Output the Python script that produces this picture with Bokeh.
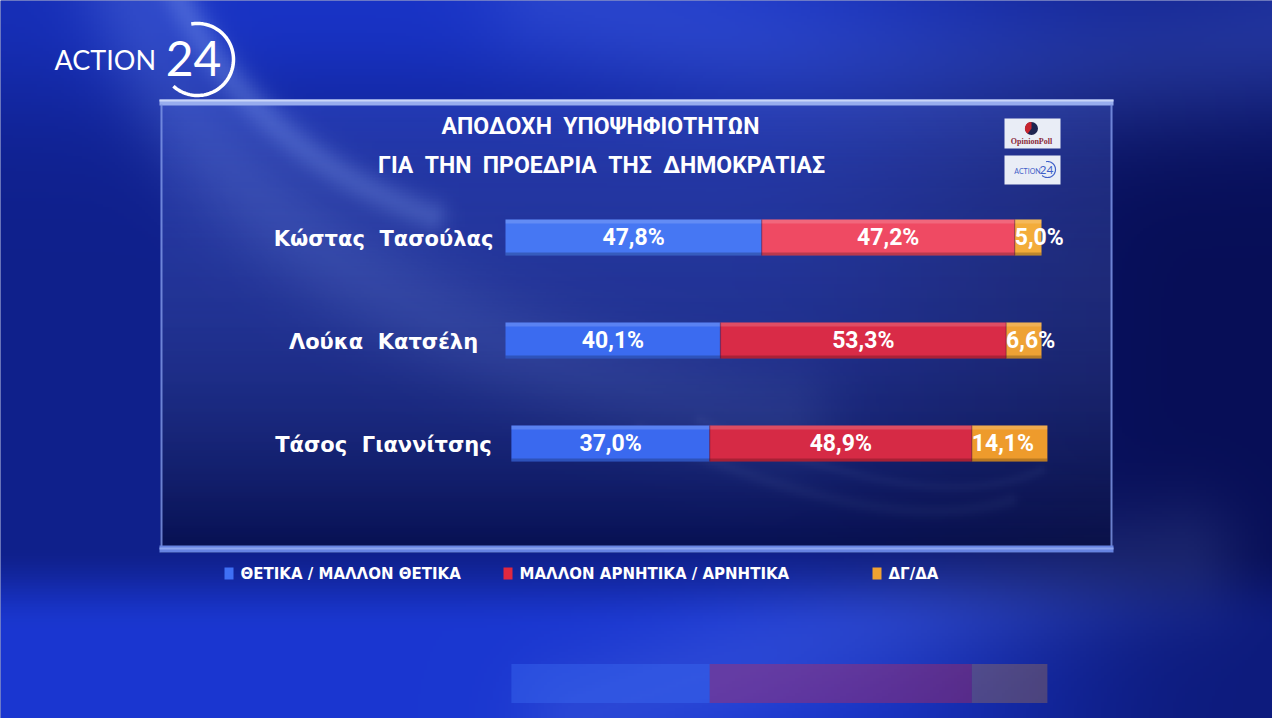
import numpy as np
from bokeh.plotting import figure
from bokeh.models import Range1d, ColumnDataSource
from bokeh.core.properties import value
from bokeh.embed import file_html
from bokeh.resources import INLINE

# ---------------- data ----------------
candidates = ["Κώστας Τασούλας", "Λούκα Κατσέλη", "Τάσος Γιαννίτσης"]
positive = [47.8, 40.1, 37.0]      # ΘΕΤΙΚΑ / ΜΑΛΛΟΝ ΘΕΤΙΚΑ
negative = [47.2, 53.3, 48.9]      # ΜΑΛΛΟΝ ΑΡΝΗΤΙΚΑ / ΑΡΝΗΤΙΚΑ
no_answer = [5.0, 6.6, 14.1]       # ΔΓ/ΔΑ
series_labels = ["ΘΕΤΙΚΑ / ΜΑΛΛΟΝ ΘΕΤΙΚΑ", "ΜΑΛΛΟΝ ΑΡΝΗΤΙΚΑ / ΑΡΝΗΤΙΚΑ", "ΔΓ/ΔΑ"]
title_lines = ["ΑΠΟΔΟΧΗ ΥΠΟΨΗΦΙΟΤΗΤΩΝ", "ΓΙΑ ΤΗΝ ΠΡΟΕΔΡΙΑ ΤΗΣ ΔΗΜΟΚΡΑΤΙΑΣ"]

# ---------------- layout / style ----------------
W, H = 1272, 718
BAR_X0 = 505.0          # pixel where 0 % sits
PX_PER_PCT = 5.36
ROW_Y0, ROW_STEP, BAR_H = 237.0, 103.0, 36.0
row_shift = [0.0, 0.0, 1.1]            # small horizontal nudge per row (in %)
blue_cols = ["#4677f3", "#3b6bf0", "#3a69ef"]
red_cols = ["#ef4a63", "#d92b47", "#d62a45"]
orange_cols = ["#f3ac3a", "#eea235", "#ee9b2c"]
TITLE_FONT = value("Roboto")
LABEL_FONT = value("Roboto")
NAME_FONT = value("DejaVu Sans")


def spaced(s):
    # widen word gaps (plain double spaces collapse in SVG text)
    return s.replace(" ", "\u00a0 ")


p = figure(width=W, height=H, x_range=Range1d(0, W), y_range=Range1d(H, 0),
           output_backend="svg", toolbar_location=None, min_border=0,
           x_axis_location=None, y_axis_location=None)
p.extra_x_ranges = {"pct": Range1d(-BAR_X0 / PX_PER_PCT, (W - BAR_X0) / PX_PER_PCT)}
p.grid.visible = False
p.outline_line_color = None
p.background_fill_color = "#10238f"
p.border_fill_color = "#10238f"

# ---------------- studio background ----------------
S = 3
gw, gh = W // S, H // S + 1
gx = (np.arange(gw) + 0.5) * S
gy = (np.arange(gh) + 0.5) * S
X, Y = np.meshgrid(gx, gy)


def smooth(a, b, x):
    t = np.clip((x - a) / (b - a), 0, 1)
    return t * t * (3 - 2 * t)


def band(p0, p1, p2, width):
    t = np.linspace(0, 1, 160)
    cx = (1 - t) ** 2 * p0[0] + 2 * (1 - t) * t * p1[0] + t ** 2 * p2[0]
    cy = (1 - t) ** 2 * p0[1] + 2 * (1 - t) * t * p1[1] + t ** 2 * p2[1]
    d2 = np.full(X.shape, 1e12)
    for xx, yy in zip(cx, cy):
        d2 = np.minimum(d2, (X - xx) ** 2 + (Y - yy) ** 2)
    return np.exp(-d2 / (2 * width ** 2))


navy = np.array([0.025, 0.05, 0.32])
bright = np.array([0.11, 0.23, 0.86])
hfac = 1 - 0.9 * smooth(700, 1200, X)
top = np.exp(-(Y / 120.0) ** 2) * (0.75 + 0.25 * smooth(0, 300, X))
bottom = smooth(545, 630, Y) * (1 - 0.45 * smooth(850, 1272, X))
t = np.clip(0.42 * hfac + 0.42 * top + 0.5 * bottom, 0, 1)
rgb = navy[None, None, :] + t[..., None] * (bright - navy)[None, None, :]

glow = np.array([0.62, 0.74, 1.0])
for (p0, p1, p2, wd, k) in [
    ((130, -20), (230, 330), (780, 420), 38, 0.18),
    ((175, -10), (250, 150), (430, 215), 12, 0.26),
    ((560, -10), (900, 120), (1290, 40), 55, 0.12),
    ((580, 718), (900, 600), (1180, 560), 45, 0.12),
    ((640, 430), (880, 540), (1010, 500), 5, 0.12),
    ((700, 420), (930, 520), (1040, 470), 4, 0.10),
]:
    g = band(p0, p1, p2, wd) * k
    rgb = rgb + g[..., None] * (glow[None, None, :] - rgb)

rgb = np.clip(rgb, 0, 1)
bg = np.empty((gh, gw), dtype=np.uint32)
view = bg.view(dtype=np.uint8).reshape((gh, gw, 4))
view[..., 0] = (rgb[..., 0] * 255).astype(np.uint8)
view[..., 1] = (rgb[..., 1] * 255).astype(np.uint8)
view[..., 2] = (rgb[..., 2] * 255).astype(np.uint8)
view[..., 3] = 255
p.image_rgba(image=[bg], x=0, y=0, dw=gw * S, dh=gh * S)

# ---------------- glass panel ----------------
PX0, PX1, PY0, PY1 = 160, 1112, 100, 552
rows = 151
f = np.linspace(0, 1, rows)
c_top = np.array([0.45, 0.56, 1.0])
c_bot = np.array([0.01, 0.03, 0.20])
pc = c_top[None, :] + f[:, None] * (c_bot - c_top)[None, :]
pa = 0.16 + f * 0.50
panel = np.empty((rows, 2), dtype=np.uint32)
pv = panel.view(dtype=np.uint8).reshape((rows, 2, 4))
for k in range(3):
    pv[..., k] = (pc[:, k] * 255).astype(np.uint8)[:, None]
pv[..., 3] = (pa * 255).astype(np.uint8)[:, None]
p.image_rgba(image=[panel], x=PX0, y=PY0, dw=PX1 - PX0, dh=PY1 - PY0)

# frame of the panel
p.quad(left=PX0 - 1, right=PX1 + 1, top=PY0 - 1, bottom=PY0 + 5, fill_color="#97acee", line_color=None)
p.quad(left=PX0 - 1, right=PX1 + 1, top=PY0 - 1, bottom=PY0 + 1, fill_color="#c9d5f8", line_color=None)
p.quad(left=PX0, right=PX0 + 2, top=PY0 + 4, bottom=PY1 - 6, fill_color="#7b93e4", line_color=None, fill_alpha=0.85)
p.quad(left=PX1 - 2, right=PX1, top=PY0 + 4, bottom=PY1 - 6, fill_color="#7b93e4", line_color=None, fill_alpha=0.85)
p.quad(left=PX0 - 1, right=PX1 + 1, top=PY1 - 7, bottom=PY1, fill_color="#6683e2", line_color=None)
p.quad(left=PX0 - 1, right=PX1 + 1, top=PY1 - 5, bottom=PY1 - 3, fill_color="#8ea6f0", line_color=None)

# ---------------- title ----------------
p.text(x=[600, 601], y=[126, 165], text=[spaced(s) for s in title_lines],
       text_font=TITLE_FONT, text_font_style="bold", text_font_size="23px",
       text_color="white", text_align="center", text_baseline="middle")

# ---------------- stacked bars ----------------
n = len(candidates)
row_y = [ROW_Y0 + ROW_STEP * i for i in range(n)]
series = [positive, negative, no_answer]
palettes = [blue_cols, red_cols, orange_cols]
seg = dict(y=[], left=[], right=[], color=[], label=[], lx=[])
side = dict(y=[], label=[], lx=[])
for i in range(n):
    start = row_shift[i]
    for s_idx, vals in enumerate(series):
        v = vals[i]
        lab = f"{v:.1f}".replace(".", ",") + "%"
        seg["y"].append(row_y[i])
        seg["left"].append(start)
        seg["right"].append(start + v)
        seg["color"].append(palettes[s_idx][i])
        if s_idx < 2:
            seg["label"].append(lab)
            seg["lx"].append(start + v / 2)
        else:
            seg["label"].append("")
            seg["lx"].append(start)
            side["y"].append(row_y[i])
            side["label"].append(lab)
            side["lx"].append(start)
        start += v
src = ColumnDataSource(seg)

p.hbar(y="y", left="left", right="right", height=BAR_H, fill_color="color",
       line_color=None, source=src, x_range_name="pct")
# glossy top edge and soft lower shade
hl = ColumnDataSource(dict(y=[v - BAR_H / 2 + 2 for v in seg["y"]],
                           left=seg["left"], right=seg["right"]))
p.hbar(y="y", left="left", right="right", height=4, fill_color="white",
       fill_alpha=0.16, line_color=None, source=hl, x_range_name="pct")
sh = ColumnDataSource(dict(y=[v + BAR_H / 2 - 1.5 for v in seg["y"]],
                           left=seg["left"], right=seg["right"]))
p.hbar(y="y", left="left", right="right", height=3, fill_color="black",
       fill_alpha=0.22, line_color=None, source=sh, x_range_name="pct")
# thin separators between segments
sep = ColumnDataSource(dict(x=[r for k, r in enumerate(seg["right"]) if k % 3 != 2],
                            y=[v for k, v in enumerate(seg["y"]) if k % 3 != 2]))
p.rect(x="x", y="y", width=0.25, height=BAR_H, fill_color="#5a1030", fill_alpha=0.35,
       line_color=None, source=sep, x_range_name="pct")

p.text(x="lx", y="y", text="label", source=src, x_range_name="pct",
       text_font=LABEL_FONT, text_font_style="bold", text_font_size="23px",
       text_color="white", text_align="center", text_baseline="middle")
p.text(x="lx", y="y", text="label", source=ColumnDataSource(side), x_range_name="pct",
       text_font=LABEL_FONT, text_font_style="bold", text_font_size="23px",
       text_color="white", text_align="left", text_baseline="middle")

# candidate names
p.text(x=[383] * n, y=[v + 1 for v in row_y], text=[spaced(c) for c in candidates],
       text_font=NAME_FONT, text_font_style="bold", text_font_size="21px",
       text_color="white", text_align="center", text_baseline="middle")

# ---------------- legend ----------------
leg_x = [224, 503, 872]
leg_c = ["#3f70f5", "#e0283f", "#f0a232"]
p.quad(left=leg_x, right=[x + 9 for x in leg_x], top=[567] * 3, bottom=[579] * 3,
       fill_color=leg_c, line_color=None)
p.text(x=[x + 16 for x in leg_x], y=[573.5] * 3, text=series_labels,
       text_font=NAME_FONT, text_font_style="bold", text_font_size="15px",
       text_color="white", text_align="left", text_baseline="middle")

# ---------------- floor reflection of the last row ----------------
last = n - 1
r_left, r_right, r_col = [], [], []
start = row_shift[last]
for s_idx, vals in enumerate(series):
    r_left.append(start)
    r_right.append(start + vals[last])
    r_col.append(palettes[s_idx][last])
    start += vals[last]
p.hbar(y=[683] * 3, left=r_left, right=r_right, height=39, fill_color=r_col,
       fill_alpha=[0.45, 0.34, 0.26], line_color=None, x_range_name="pct")

# ---------------- channel logo ----------------
p.text(x=[54], y=[59], text=["ACTION"], text_font=value("Lato"), text_font_size="27px",
       text_color="white", text_align="left", text_baseline="middle")
p.text(x=[193], y=[58], text=["24"], text_font=value("Lato"), text_font_size="48px",
       text_color="white", text_align="center", text_baseline="middle")
th = np.radians(np.linspace(100, -132, 80))
p.line(x=197 + 36 * np.cos(th), y=59 - 36 * np.sin(th), line_color="white", line_width=3.5)

# ---------------- small source badges ----------------
p.quad(left=[1004, 1004], right=[1060, 1060], top=[118, 155], bottom=[148, 184],
       fill_color="#e9edf6", line_color=None)
p.wedge(x=[1031], y=[128], radius=6.5, start_angle=0, end_angle=2 * np.pi,
        fill_color="#1c2450", line_color=None)
p.wedge(x=[1031], y=[128], radius=6.5, start_angle=np.pi * 0.5, end_angle=np.pi * 1.3,
        fill_color="#c8242e", line_color=None)
p.text(x=[1031], y=[141], text=["OpinionPoll"], text_font=value("Liberation Serif"),
       text_font_style="bold", text_font_size="8px", text_color="#8a2a38",
       text_align="center", text_baseline="middle")
p.text(x=[1027], y=[170], text=["ACTION"], text_font=value("Lato"), text_font_size="7px",
       text_color="#3f5fc8", text_align="center", text_baseline="middle")
p.text(x=[1046], y=[169], text=["24"], text_font=value("Lato"), text_font_size="12px",
       text_color="#3f5fc8", text_align="center", text_baseline="middle")
th2 = np.radians(np.linspace(100, -132, 40))
p.line(x=1047 + 8 * np.cos(th2), y=169 - 8 * np.sin(th2), line_color="#3f5fc8", line_width=1.2)

open("out.html", "w").write(file_html(p, INLINE))
